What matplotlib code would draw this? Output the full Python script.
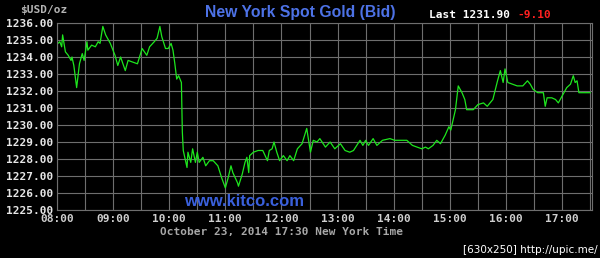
import matplotlib
matplotlib.use("Agg")
import matplotlib.pyplot as plt
import numpy as np

# minutes after 08:00 and bid price
minutes = [1, 3, 5, 6, 9, 12, 15, 16, 18, 21, 24, 27, 29, 32, 33, 37, 41, 44, 46, 49,
           52, 57, 62, 65, 68, 73, 76, 81, 86, 91, 96, 99, 104, 107, 110, 112, 116, 119,
           122, 124, 126, 128, 130, 133, 134, 135, 137, 139, 140, 143, 145, 148, 150, 152,
           156, 159, 163, 167, 172, 176, 180, 183, 186, 188, 193, 194, 198, 201, 203, 205,
           206, 210, 215, 220, 225, 227, 230, 232, 235, 238, 242, 246, 249, 253, 257, 262,
           267, 271, 274, 278, 281, 287, 292, 297, 303, 308, 313, 317, 324, 327, 330, 333,
           338, 342, 348, 356, 361, 374, 380, 385, 390, 394, 397, 402, 406, 410, 415, 419,
           421, 426, 429, 433, 436, 438, 445, 450, 456, 460, 463, 466, 471, 474, 477, 479,
           482, 487, 492, 498, 503, 506, 509, 514, 520, 522, 524, 529, 533, 536, 540, 545,
           549, 552, 554, 556, 558, 570]
prices = [1234.8, 1234.9, 1234.6, 1235.3, 1234.3, 1234.1, 1233.8, 1234.0, 1233.5, 1232.2,
          1233.6, 1234.2, 1233.8, 1234.9, 1234.4, 1234.7, 1234.6, 1234.9, 1234.8, 1235.8,
          1235.3, 1234.8, 1234.1, 1233.5, 1234.0, 1233.2, 1233.8, 1233.7, 1233.6, 1234.5,
          1234.1, 1234.6, 1234.9, 1235.1, 1235.8, 1235.2, 1234.5, 1234.5, 1234.8, 1234.4,
          1233.6, 1232.7, 1232.9, 1232.5, 1229.6, 1228.5, 1228.0, 1227.5, 1228.4, 1227.8,
          1228.6, 1227.8, 1228.4, 1227.8, 1228.1, 1227.6, 1227.9, 1227.9, 1227.6, 1226.9,
          1226.3, 1226.9, 1227.6, 1227.2, 1226.6, 1226.4, 1227.1, 1227.8, 1228.1, 1227.2,
          1228.2, 1228.4, 1228.5, 1228.5, 1227.9, 1228.5, 1228.6, 1229.0, 1228.4, 1227.9,
          1228.2, 1227.9, 1228.2, 1227.9, 1228.6, 1228.9, 1229.8, 1228.4, 1229.1, 1229.0,
          1229.2, 1228.7, 1229.0, 1228.6, 1228.9, 1228.5, 1228.4, 1228.5, 1229.1, 1228.8,
          1229.1, 1228.8, 1229.2, 1228.8, 1229.1, 1229.2, 1229.1, 1229.1, 1228.8, 1228.7,
          1228.6, 1228.7, 1228.6, 1228.8, 1229.1, 1228.9, 1229.4, 1229.9, 1229.7, 1230.9,
          1232.3, 1231.9, 1231.5, 1230.9, 1230.9, 1231.2, 1231.3, 1231.1, 1231.3, 1231.5,
          1232.6, 1233.2, 1232.5, 1233.3, 1232.5, 1232.4, 1232.3, 1232.3, 1232.6, 1232.4,
          1232.1, 1231.9, 1231.9, 1231.1, 1231.6, 1231.6, 1231.5, 1231.3, 1231.7, 1232.2,
          1232.4, 1232.9, 1232.5, 1232.6, 1231.9, 1231.9]

x_ticks = [0, 60, 120, 180, 240, 300, 360, 420, 480, 540]
x_labels = ["08:00", "09:00", "10:00", "11:00", "12:00", "13:00", "14:00", "15:00", "16:00", "17:00"]
y_ticks = [1225, 1226, 1227, 1228, 1229, 1230, 1231, 1232, 1233, 1234, 1235, 1236]
y_labels = [f"{v:.2f}" for v in y_ticks]

MONO = "DejaVu Sans Mono"
GRID = "#6e6e6e"

fig = plt.figure(figsize=(6.0, 2.58), dpi=100, facecolor="black")
ax = fig.add_axes([57/600, 1-210/258, 535/600, 187/258], facecolor="black")

ax.set_xlim(0, 572)
ax.set_ylim(1225, 1236)
ax.set_xticks(np.arange(0, 572, 30), minor=False)
ax.grid(True, color=GRID, linewidth=0.8)
ax.set_axisbelow(True)
ax.set_yticks(y_ticks)
ax.set_yticklabels(y_labels, fontfamily=MONO, fontweight="bold", fontsize=8, color="#e6e6e6")
ax.set_xticks(np.arange(0, 572, 30))
ax.set_xticklabels([x_labels[x_ticks.index(t)] if t in x_ticks else "" for t in range(0, 572, 30)],
                   fontfamily=MONO, fontweight="bold", fontsize=8, color="#cfcfcf")
ax.tick_params(length=0, pad=3)
for s in ax.spines.values():
    s.set_color(GRID)
    s.set_linewidth(0.8)

ax.plot(minutes, prices, color="#1ee61e", linewidth=0.9)

ax.text(0.35, 0.045, "www.kitco.com", transform=ax.transAxes, ha="center", va="center",
        fontfamily="Liberation Sans", fontweight="bold", fontsize=12, color="#3a60dc")

fig.text(300/600, 1-13/258, "New York Spot Gold (Bid)", ha="center", va="center",
         fontfamily="Liberation Sans", fontweight="bold", fontsize=11.3, color="#4d72e6")
fig.text(20/600, 1-10/258, "$USD/oz", ha="left", va="center",
         fontfamily=MONO, fontweight="bold", fontsize=8, color="#b4b4b4")
fig.text(429/600, 1-15/258, "Last 1231.90", ha="left", va="center",
         fontfamily=MONO, fontweight="bold", fontsize=8, color="#ffffff")
fig.text(517/600, 1-15/258, "-9.10", ha="left", va="center",
         fontfamily=MONO, fontweight="bold", fontsize=8, color="#ff2020")
fig.text(282/600, 1-232/258, "October 23, 2014 17:30 New York Time", ha="center", va="center",
         fontfamily=MONO, fontweight="bold", fontsize=8, color="#a8a8a8")
fig.text(598/600, 1-250/258, "[630x250] http://upic.me/", ha="right", va="center",
         fontfamily="DejaVu Sans", fontsize=7.5, color="#ffffff")

fig.savefig("out.png", dpi=100, facecolor="black")
